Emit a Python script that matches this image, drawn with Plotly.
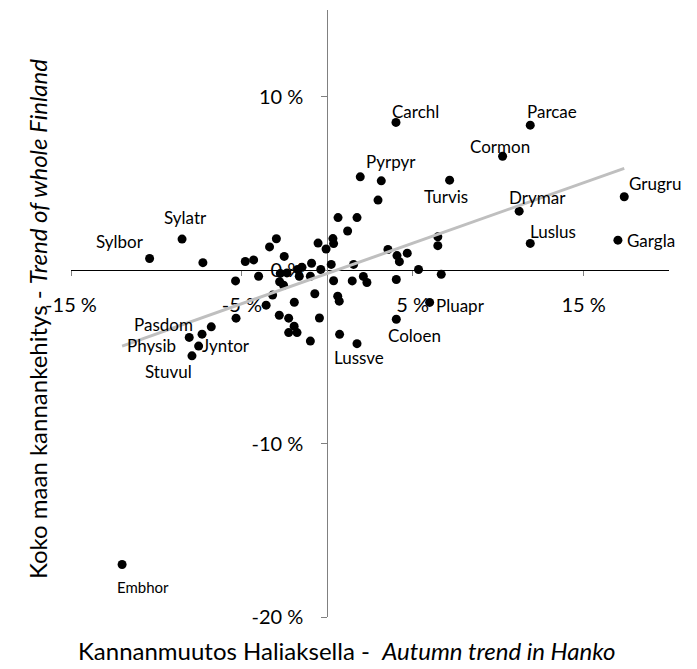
import numpy as np
import plotly.graph_objects as go

# Labelled species: (name, x = autumn trend in Hanko %, y = trend of whole Finland %)
label_names = ["Carchl", "Parcae", "Cormon", "Pyrpyr", "Turvis", "Drymar", "Grugru",
               "Luslus", "Gargla", "Sylatr", "Sylbor", "Pluapr", "Coloen", "Lussve",
               "Embhor", "Pasdom", "Physib", "Jyntor", "Stuvul"]
label_x = [4.02, 11.88, 10.26, 1.93, 7.16, 11.23, 17.38,
           11.88, 17.01, -8.50, -10.40, 5.99, 4.04, 1.74,
           -12.01, -6.79, -8.08, -7.53, -7.92]
label_y = [8.52, 8.36, 6.57, 5.38, 5.19, 3.40, 4.23,
           1.54, 1.73, 1.79, 0.67, -1.86, -2.83, -4.24,
           -16.97, -3.27, -3.88, -4.38, -4.94]

# Unlabelled species
other_x = [3.16, 2.97, 0.63, 1.74, 1.19, 0.33, 0.37, -0.54, -0.07, -0.92,
           0.23, 1.54, -0.38, 3.55, 4.08, 4.22, 4.68, 5.34, 6.47, 6.47,
           6.67, 4.04, 2.32, 2.11, 1.46, 0.37, -0.73, 0.61, 0.70, 0.72,
           -0.46, -0.99, -1.93, -3.20, -3.58, -5.34, -2.81, -2.26, -1.94, -2.26,
           -1.77, -5.37, -4.02, -4.80, -4.31, -7.28, -2.98, -3.38, -2.52, -2.75,
           -2.36, -2.79, -2.56, -1.74, -1.48, -1.64, -0.99, -7.33]
other_y = [5.15, 4.04, 3.03, 3.03, 2.26, 1.82, 1.53, 1.56, 1.22, 0.40,
           0.33, 0.33, 0.04, 1.19, 0.84, 0.49, 0.98, 0.04, 1.92, 1.41,
           -0.24, -0.54, -0.71, -0.36, -0.62, -0.61, -1.36, -1.50, -1.79, -3.70,
           -2.76, -4.09, -1.85, -1.44, -2.02, -2.77, -2.60, -2.77, -3.23, -3.60,
           -3.60, -0.62, -0.35, 0.50, 0.59, 0.43, 1.81, 1.34, 0.79, -0.19,
           -0.16, -0.67, -0.87, 0.04, 0.16, -0.35, -0.35, -3.69]

x_ticks = [-15, -5, 5, 15]
x_tick_text = ["-15 %", "-5 %", "5 %", "15 %"]
y_ticks = [-20, -10, 0, 10]
y_tick_text = ["-20 %", "-10 %", "0 %", "10 %"]

# label offsets in pixels (dx right, dy up) relative to the point
label_dx = [20, 22, -3, 31, -4, 18, 31, 23, 33, 3, -30, 31, 18, 2, 21, -48, -38, 27, -23]
label_dy = [11, 14, 10, 15, -16, 14, 13, 12, 0, 22, 17, -3, -16, -14, -23, 2, -8, 1, -16]
label_size = [17] * 14 + [15] + [17] * 4

FONT = "Lato"

all_x = np.array(label_x + other_x)
all_y = np.array(label_y + other_y)
slope, intercept = np.polyfit(all_x, all_y, 1)
trend_x = np.array([all_x.min(), all_x.max()])
trend_y = slope * trend_x + intercept

fig = go.Figure()
fig.add_trace(go.Scatter(x=all_x, y=all_y, mode="markers",
                         marker=dict(color="black", size=9), hoverinfo="skip"))
fig.add_trace(go.Scatter(x=trend_x, y=trend_y, mode="lines",
                         line=dict(color="#bfbfbf", width=3), hoverinfo="skip"))

for name, x, y, dx, dy, fs in zip(label_names, label_x, label_y, label_dx, label_dy, label_size):
    fig.add_annotation(x=x, y=y, xref="x", yref="y", text=name, showarrow=False,
                       xanchor="center", yanchor="middle",
                       xshift=dx, yshift=dy, font=dict(family=FONT, size=fs, color="black"))

fig.add_annotation(xref="paper", yref="paper", x=-0.055, y=0.491, textangle=-90,
                   xanchor="center", yanchor="middle",
                   text="Koko maan kannankehitys - <i>Trend of whole Finland</i>",
                   showarrow=False, font=dict(family=FONT, size=24, color="black"))
fig.add_annotation(xref="paper", yref="paper", x=0.46, y=-0.056,
                   xanchor="center", yanchor="middle",
                   text="Kannanmuutos Haliaksella -&nbsp; <i>Autumn trend in Hanko</i>",
                   showarrow=False, font=dict(family=FONT, size=24, color="black"))

xr = [-15, 20]
yr = [-20, 15]
fig.update_layout(
    width=689, height=661,
    margin=dict(l=63, r=28, t=2, b=52, autoexpand=False),
    paper_bgcolor="white", plot_bgcolor="white",
    showlegend=False,
    font=dict(family=FONT, size=20, color="black"),
    xaxis=dict(range=xr, anchor="free", position=(0 - yr[0]) / (yr[1] - yr[0]),
               automargin=False,
               showgrid=False, zeroline=False, showline=True, linecolor="black", linewidth=1,
               ticks="outside", ticklen=5, tickcolor="#808080", tickwidth=1,
               tickvals=x_ticks, ticktext=x_tick_text, ticklabelstandoff=12,
               tickfont=dict(family=FONT, size=20, color="black"), layer="below traces"),
    yaxis=dict(range=yr, anchor="free", position=(0 - xr[0]) / (xr[1] - xr[0]),
               automargin=False,
               showgrid=False, zeroline=False, showline=True, linecolor="#808080", linewidth=1,
               ticks="outside", ticklen=6, tickcolor="#808080", tickwidth=1,
               tickvals=y_ticks, ticktext=y_tick_text, ticklabelstandoff=14,
               tickfont=dict(family=FONT, size=20, color="black"), layer="below traces"),
)

fig.write_html("out.html")
